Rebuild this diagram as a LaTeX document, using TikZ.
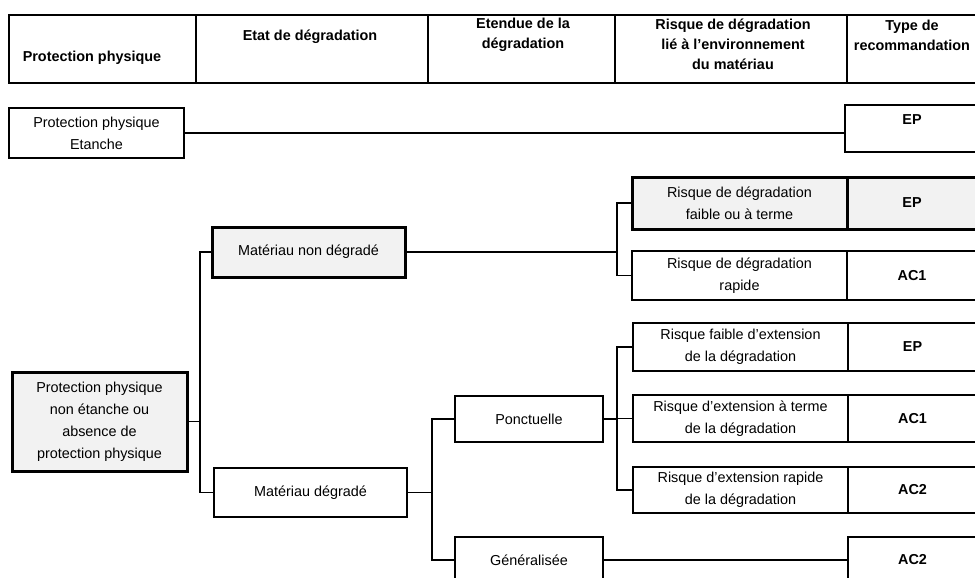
\documentclass[tikz,border=0pt]{standalone}
\usepackage{fontspec}
\setmainfont{Liberation Sans}
\begin{document}
\begin{tikzpicture}[x=1pt,y=-1pt,
  every node/.style={inner sep=0pt, outer sep=0pt, align=center},
  txt/.style={font=\fontsize{14.4}{22}\selectfont},
  hd/.style={font=\bfseries\fontsize{14.4}{20}\selectfont},
  box/.style={draw, line width=1.6pt, rectangle, txt},
  hot/.style={box, line width=3pt, fill=gray!10},
  rec/.style={font=\bfseries\fontsize{14.4}{22}\selectfont},
  link/.style={line width=1.6pt}]
\useasboundingbox (0,0) rectangle (975,578);
\clip (0,0) rectangle (975,578);

% column headings
\draw[line width=2pt] (9,15) rectangle (990,83);
\foreach \x in {196,428,615,847} \draw[line width=2pt] (\x,15) -- (\x,83);
\node[hd] (h1) at (92,58) {Protection physique};
\node[hd] (h2) at (310,37) {Etat de dégradation};
\node[hd] (h3) at (523,35) {Etendue de la\\dégradation};
\node[hd] (h4) at (733,44) {Risque de dégradation\\lié à l'environnement\\du matériau};
\node[hd] (h5) at (912,35) {Type de\\recommandation};

% protection physique
\node[box, minimum width=175pt, minimum height=50pt] (PPE) at (96.5,133) {Protection physique\\Etanche};
\node[hot, minimum width=175pt, minimum height=99pt] (PNE) at (99.5,421.5) {Protection physique\\non étanche ou\\absence de\\protection physique};

% etat de degradation
\node[hot, minimum width=193pt, minimum height=50pt] (MND) at (308.5,252) {Matériau non dégradé};
\node[box, minimum width=193pt, minimum height=49pt] (MD) at (310.5,492.5) {Matériau dégradé};

% etendue
\node[box, minimum width=148pt, minimum height=46pt] (PONC) at (529,419) {Ponctuelle};
\node[box, minimum width=148pt, minimum height=46pt] (GEN) at (529,560) {Généralisée};

% risque
\node[hot, minimum width=215pt, minimum height=52pt] (RF) at (739.5,203) {Risque de dégradation\\faible ou à terme};
\node[box, minimum width=215pt, minimum height=49pt] (RR) at (739.5,275.5) {Risque de dégradation\\rapide};
\node[box, minimum width=215pt, minimum height=48pt] (RFE) at (740.5,347) {Risque faible d'extension\\de la dégradation};
\node[box, minimum width=215pt, minimum height=47pt] (RET) at (740.5,418.5) {Risque d'extension à terme\\de la dégradation};
\node[box, minimum width=215pt, minimum height=46pt] (RER) at (740.5,490) {Risque d'extension rapide\\de la dégradation};

% recommandations
\node[box, rec, minimum width=134pt, minimum height=47pt] (EP1) at (912,128.5) {\raisebox{18pt}{EP}};
\node[hot, rec, minimum width=130pt, minimum height=52pt] (EP2) at (912,203) {EP};
\node[box, rec, minimum width=130pt, minimum height=49pt] (AC1a) at (912,275.5) {AC1};
\node[box, rec, minimum width=129pt, minimum height=48pt] (EP3) at (912.5,347) {EP};
\node[box, rec, minimum width=129pt, minimum height=47pt] (AC1b) at (912.5,418.5) {AC1};
\node[box, rec, minimum width=129pt, minimum height=46pt] (AC2a) at (912.5,490) {AC2};
\node[box, rec, minimum width=129pt, minimum height=46pt] (AC2b) at (912.5,560) {AC2};

% connectors
\draw[link] (PPE.east) -- (PPE.east -| EP1.west);
\draw[link] (PNE.east) -- ++(13,0) coordinate (j1);
\draw[link] (MND.west) -| (j1);
\draw[link] (MD.west) -| (j1);
\draw[link] (MD.east) -- ++(25,0) coordinate (j2);
\draw[link] (PONC.west) -| (j2);
\draw[link] (GEN.west) -| (j2);
\draw[link] (MND.east) -- ++(212,0) coordinate (j3);
\draw[link] (RF.west) -| (j3);
\draw[link] (RR.west) -| (j3);
\draw[link] (PONC.east) -- ++(14,0) coordinate (j4);
\draw[link] (RFE.west) -| (j4);
\draw[link] (RET.west) -| (j4);
\draw[link] (RER.west) -| (j4);
\draw[link] (GEN.east) -- (GEN.east -| AC2b.west);
\end{tikzpicture}
\end{document}
